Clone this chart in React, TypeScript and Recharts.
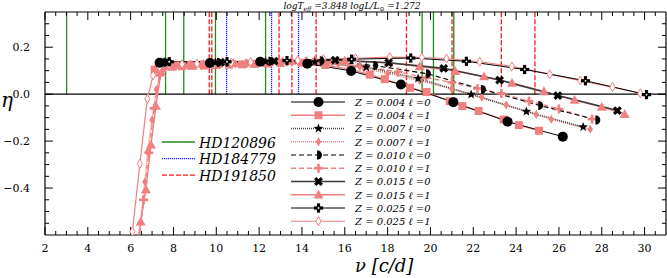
import React from 'react';
import { ComposedChart, Line, XAxis, YAxis, ReferenceLine } from 'recharts';

// model curves: [nu (c/d), eta]
const z004l0 = [[7.35, 0.134], [9.7, 0.133], [12.05, 0.138], [14.25, 0.13], [16.3, 0.099], [18.62, 0.041], [21.07, -0.034], [23.6, -0.117], [26.18, -0.181]];
const z004l1 = [[7.12, 0.105], [7.45, 0.112], [7.9, 0.117], [8.4, 0.119], [8.9, 0.121], [9.45, 0.122], [10.0, 0.124], [10.6, 0.126], [11.2, 0.127], [11.8, 0.129], [12.4, 0.131], [13.0, 0.133], [13.98, 0.134], [15.1, 0.124], [16.27, 0.106], [17.17, 0.083], [17.87, 0.064], [19.05, 0.027], [19.82, 0.009], [20.9, -0.03], [21.49, -0.051], [22.25, -0.072], [23.42, -0.108], [24.13, -0.132], [25.07, -0.156]];
const z007l0 = [[7.5, 0.134], [9.95, 0.134], [12.3, 0.139], [14.6, 0.137], [17.0, 0.115], [19.42, 0.067], [21.9, -0.001], [24.48, -0.074], [27.13, -0.14]];
const z007l1 = [[6.3, -0.68], [6.67, -0.373], [6.79, -0.245], [7.0, -0.11], [7.2, 0.02], [7.45, 0.105], [7.8, 0.118], [8.3, 0.12], [8.9, 0.122], [9.5, 0.124], [10.2, 0.126], [10.9, 0.128], [11.6, 0.13], [12.4, 0.133], [13.3, 0.136], [14.5, 0.137], [15.7, 0.128], [16.9, 0.11], [18.0, 0.088], [19.5, 0.058], [21.0, 0.022], [22.4, -0.013], [23.54, -0.046], [24.94, -0.087], [25.64, -0.107], [27.46, -0.15]];
const z010l0 = [[7.6, 0.136], [10.1, 0.135], [12.5, 0.14], [14.9, 0.142], [17.4, 0.122], [19.86, 0.087], [22.43, 0.02], [25.1, -0.048], [27.77, -0.11]];
const z010l1 = [[6.35, -0.66], [6.6, -0.45], [6.85, -0.25], [7.1, -0.06], [7.35, 0.08], [7.6, 0.115], [8.1, 0.12], [8.7, 0.123], [9.3, 0.125], [10.0, 0.127], [10.7, 0.129], [11.4, 0.131], [12.2, 0.134], [13.1, 0.137], [14.2, 0.14], [15.4, 0.135], [16.7, 0.12], [18.49, 0.095], [19.8, 0.07], [21.0, 0.05], [22.2, 0.024], [23.31, 0.003], [24.6, -0.03], [26.0, -0.063], [27.55, -0.106]];
const z015l0 = [[7.7, 0.137], [10.2, 0.136], [12.7, 0.141], [15.55, 0.145], [18.05, 0.134], [20.62, 0.11], [23.23, 0.06], [25.95, -0.006], [28.73, -0.07]];
const z015l1 = [[6.2, -0.7], [6.47, -0.543], [6.71, -0.406], [6.95, -0.215], [7.18, -0.05], [7.42, 0.095], [7.7, 0.12], [8.2, 0.124], [8.8, 0.126], [9.4, 0.128], [10.1, 0.13], [10.8, 0.132], [11.6, 0.135], [12.5, 0.138], [13.5, 0.141], [14.6, 0.144], [16.0, 0.142], [18.05, 0.134], [19.5, 0.118], [21.16, 0.098], [22.5, 0.075], [23.81, 0.048], [25.3, 0.012], [26.73, -0.025], [28.0, -0.055], [29.07, -0.085]];
const z025l0 = [[7.8, 0.138], [10.5, 0.138], [13.3, 0.143], [16.32, 0.149], [19.08, 0.154], [21.68, 0.14], [24.4, 0.105], [27.24, 0.057], [30.09, -0.002]];
const z025l1 = [[5.9, -0.7], [6.08, -0.586], [6.43, -0.296], [6.78, -0.02], [7.05, 0.08], [7.35, 0.115], [7.8, 0.125], [8.4, 0.128], [9.1, 0.13], [9.9, 0.132], [10.7, 0.134], [11.6, 0.137], [12.6, 0.14], [13.8, 0.144], [15.0, 0.149], [16.5, 0.153], [18.1, 0.158], [19.6, 0.156], [20.75, 0.152], [22.3, 0.138], [23.8, 0.118], [25.57, 0.085], [27.0, 0.058], [28.5, 0.03], [29.8, 0.004]];

// observed frequencies (c/d)
const hd120896 = [3.01, 7.63, 8.48, 9.96, 12.3, 19.61, 20.14, 21.09];
const hd184779 = [10.48, 12.58, 13.84];
const hd191850 = [9.67, 9.79, 12.93, 13.53, 14.66, 18.88, 21.01, 23.31, 24.88];

const xLabelTicks = [2, 4, 6, 8, 10, 12, 14, 16, 18, 20, 22, 24, 26, 28, 30];
const xMinorTicks = [2.5, 3, 3.5, 4.5, 5, 5.5, 6.5, 7, 7.5, 8.5, 9, 9.5, 10.5, 11, 11.5, 12.5, 13, 13.5, 14.5, 15, 15.5, 16.5, 17, 17.5, 18.5, 19, 19.5, 20.5, 21, 21.5, 22.5, 23, 23.5, 24.5, 25, 25.5, 26.5, 27, 27.5, 28.5, 29, 29.5, 30.5];
const yLabelTicks = [-0.4, -0.2, 0.0, 0.2];
const yMinorTicks = [-0.55, -0.5, -0.45, -0.35, -0.3, -0.25, -0.15, -0.1, -0.05, 0.05, 0.1, 0.15, 0.25, 0.3];

const X_DOMAIN: [number, number] = [2, 31];
const Y_DOMAIN: [number, number] = [-0.6, 0.35];
const SALMON = '#f08080';
const FONT = 'DejaVu Serif';

const toPts = (rows: number[][]) => rows.map(([x, y]) => ({ x, y }));

type Kind = 'circle' | 'square' | 'star' | 'diamond' | 'half' | 'plus' | 'cross' | 'tri' | 'clover' | 'odiamond';

function starPath(cx: number, cy: number) {
  let d = '';
  for (let i = 0; i < 10; i++) {
    const r = i % 2 === 0 ? 5 : 2.1;
    const a = -Math.PI / 2 + (i * Math.PI) / 5;
    d += (i === 0 ? 'M' : 'L') + (cx + r * Math.cos(a)).toFixed(2) + ',' + (cy + r * Math.sin(a)).toFixed(2);
  }
  return d + 'Z';
}

function Marker({ kind, cx, cy }: { kind: Kind; cx: number; cy: number }) {
  switch (kind) {
    case 'circle':
      return <circle cx={cx} cy={cy} r={5} fill="#000" />;
    case 'square':
      return <rect x={cx - 4} y={cy - 4} width={8} height={8} fill={SALMON} />;
    case 'star':
      return <path d={starPath(cx, cy)} fill="#000" />;
    case 'diamond':
      return <path d={`M${cx},${cy - 4.5}L${cx + 2.8},${cy}L${cx},${cy + 4.5}L${cx - 2.8},${cy}Z`} fill={SALMON} />;
    case 'half':
      return (
        <g>
          <path d={`M${cx - 1},${cy - 4.5}A4.5,4.5 0 0 1 ${cx - 1},${cy + 4.5}Z`} fill="#000" />
          <line x1={cx - 1} y1={cy - 4.5} x2={cx - 1} y2={cy + 4.5} stroke="#000" strokeWidth={0.8} />
        </g>
      );
    case 'plus':
      return (
        <g stroke={SALMON} strokeWidth={2.6}>
          <line x1={cx - 4.5} y1={cy} x2={cx + 4.5} y2={cy} />
          <line x1={cx} y1={cy - 4.5} x2={cx} y2={cy + 4.5} />
        </g>
      );
    case 'cross':
      return (
        <g stroke="#000" strokeWidth={3.2}>
          <line x1={cx - 3.3} y1={cy - 3.3} x2={cx + 3.3} y2={cy + 3.3} />
          <line x1={cx - 3.3} y1={cy + 3.3} x2={cx + 3.3} y2={cy - 3.3} />
        </g>
      );
    case 'tri':
      return <path d={`M${cx},${cy - 5}L${cx + 5},${cy + 3.8}L${cx - 5},${cy + 3.8}Z`} fill={SALMON} />;
    case 'clover':
      return (
        <g>
          <g stroke="#000" strokeWidth={3.2}>
            <line x1={cx - 4.6} y1={cy} x2={cx + 4.6} y2={cy} />
            <line x1={cx} y1={cy - 4.6} x2={cx} y2={cy + 4.6} />
          </g>
          <circle cx={cx} cy={cy} r={0.9} fill="#fff" />
        </g>
      );
    case 'odiamond':
      return <path d={`M${cx},${cy - 4.5}L${cx + 2.6},${cy}L${cx},${cy + 4.5}L${cx - 2.6},${cy}Z`} fill="#fff" stroke={SALMON} strokeWidth={1} />;
    default:
      return null;
  }
}

type Series = { label: string; data: number[][]; stroke: string; width: number; dash?: string; kind: Kind };

const SERIES: Series[] = [
  { label: 'Z = 0.004 ℓ =0', data: z004l0, stroke: '#000', width: 1, kind: 'circle' },
  { label: 'Z = 0.004 ℓ =1', data: z004l1, stroke: SALMON, width: 1.3, kind: 'square' },
  { label: 'Z = 0.007 ℓ =0', data: z007l0, stroke: '#444', width: 1.6, dash: '1 1', kind: 'star' },
  { label: 'Z = 0.007 ℓ =1', data: z007l1, stroke: SALMON, width: 1.6, dash: '1 1', kind: 'diamond' },
  { label: 'Z = 0.010 ℓ =0', data: z010l0, stroke: '#000', width: 1.1, dash: '5 3', kind: 'half' },
  { label: 'Z = 0.010 ℓ =1', data: z010l1, stroke: SALMON, width: 1.3, dash: '5 3', kind: 'plus' },
  { label: 'Z = 0.015 ℓ =0', data: z015l0, stroke: '#3a3a3a', width: 1.6, kind: 'cross' },
  { label: 'Z = 0.015 ℓ =1', data: z015l1, stroke: SALMON, width: 1.4, kind: 'tri' },
  { label: 'Z = 0.025 ℓ =0', data: z025l0, stroke: '#000', width: 1, kind: 'clover' },
  { label: 'Z = 0.025 ℓ =1', data: z025l1, stroke: SALMON, width: 1.2, kind: 'odiamond' },
];

const OBS = [
  { label: 'HD120896', freqs: hd120896, stroke: '#1f8a1f', dash: undefined as string | undefined, width: 1.3 },
  { label: 'HD184779', freqs: hd184779, stroke: '#2020ff', dash: '1.2 0.8', width: 1.3 },
  { label: 'HD191850', freqs: hd191850, stroke: '#ff1a1a', dash: '5 2', width: 1.3 },
];

const fmtY = (v: number) => (v < 0 ? '\u2212' : '') + Math.abs(v).toFixed(1);

// tick lengths in data units (x: 21.43 px per c/d, y: 235 px per unit)
const TX_MAJ = 0.034, TX_MIN = 0.017;
const TY_MAJ = 0.37, TY_MIN = 0.19;

export default function App() {
  const l1 = SERIES.filter((_, i) => i % 2 === 1);
  const l0 = SERIES.filter((_, i) => i % 2 === 0);
  const tickSeg = (key: string, a: { x: number; y: number }, b: { x: number; y: number }) => (
    <ReferenceLine key={key} segment={[a, b]} stroke="#000" strokeWidth={1} ifOverflow="visible" />
  );
  const xT = [...xLabelTicks.map((t) => [t, TX_MAJ]), ...xMinorTicks.map((t) => [t, TX_MIN])];
  const yT = [...yLabelTicks.map((t) => [t, TY_MAJ]), ...yMinorTicks.map((t) => [t, TY_MIN])];

  return (
    <div style={{ position: 'absolute', left: 0, top: 0, width: 667, height: 278, background: '#fff' }}>
      <ComposedChart width={667} height={278} margin={{ top: 12, right: 1, bottom: 0, left: 0 }}>
        <XAxis
          type="number"
          dataKey="x"
          domain={X_DOMAIN}
          ticks={xLabelTicks}
          allowDataOverflow
          height={43}
          axisLine={false}
          tickLine={false}
          tickSize={0}
          tickMargin={9}
          interval={0}
          tick={{ fontFamily: FONT, fontSize: 11, fill: '#000' }}
        />
        <YAxis
          type="number"
          dataKey="y"
          domain={Y_DOMAIN}
          ticks={yLabelTicks}
          allowDataOverflow
          width={45}
          axisLine={false}
          tickLine={false}
          tickSize={0}
          tickMargin={15}
          interval={0}
          tickFormatter={fmtY}
          tick={{ fontFamily: FONT, fontSize: 11, fill: '#000' }}
        />
        {OBS.flatMap((o) =>
          o.freqs.map((f, i) => (
            <ReferenceLine
              key={`${o.label}-${i}`}
              segment={[{ x: f, y: 0 }, { x: f, y: Y_DOMAIN[1] }]}
              stroke={o.stroke}
              strokeWidth={o.width}
              strokeDasharray={o.dash}
              ifOverflow="visible"
            />
          )),
        )}
        <ReferenceLine y={0} stroke="#000" strokeWidth={1.2} />
        {xT.map(([t, len], i) => tickSeg(`xb${i}`, { x: t, y: Y_DOMAIN[0] }, { x: t, y: Y_DOMAIN[0] + len }))}
        {xT.map(([t, len], i) => tickSeg(`xt${i}`, { x: t, y: Y_DOMAIN[1] }, { x: t, y: Y_DOMAIN[1] - len }))}
        {yT.map(([t, len], i) => tickSeg(`yl${i}`, { x: X_DOMAIN[0], y: t }, { x: X_DOMAIN[0] + len, y: t }))}
        {yT.map(([t, len], i) => tickSeg(`yr${i}`, { x: X_DOMAIN[1], y: t }, { x: X_DOMAIN[1] - len, y: t }))}
        <ReferenceLine x={X_DOMAIN[0]} stroke="#000" strokeWidth={1.2} />
        <ReferenceLine x={X_DOMAIN[1]} stroke="#000" strokeWidth={1.2} />
        <ReferenceLine y={Y_DOMAIN[0]} stroke="#000" strokeWidth={1.2} />
        <ReferenceLine y={Y_DOMAIN[1]} stroke="#000" strokeWidth={1.2} />
        {[...l1, ...l0].map((s) => (
          <Line
            key={s.label}
            data={toPts(s.data)}
            dataKey="y"
            type="linear"
            stroke={s.stroke}
            strokeWidth={s.width}
            strokeDasharray={s.dash}
            isAnimationActive={false}
            activeDot={false}
            dot={(p: any) => <Marker key={`${s.label}-${p.index}`} kind={s.kind} cx={p.cx} cy={p.cy} />}
          />
        ))}
      </ComposedChart>
      <svg width={667} height={278} style={{ position: 'absolute', left: 0, top: 0, pointerEvents: 'none' }}>
        <text x={352} y={9} textAnchor="middle" fontFamily={FONT} fontStyle="italic" fontSize={9}>
          logT<tspan fontSize={6} dy={2}>eff</tspan>
          <tspan dy={-2}> =3.848 logL/L</tspan>
          <tspan fontSize={6} dy={2} fontStyle="normal">⊙</tspan>
          <tspan dy={-2}> =1.272</tspan>
        </text>
        <text x={1} y={107} fontFamily={FONT} fontStyle="italic" fontSize={20}>η</text>
        <text x={355} y={272} fontFamily={FONT} fontStyle="italic" fontSize={18}>ν [c/d]</text>
        {OBS.map((o, i) => (
          <g key={o.label}>
            <line x1={162} x2={195} y1={142 + i * 16.6} y2={142 + i * 16.6} stroke={o.stroke} strokeWidth={o.width} strokeDasharray={o.dash} />
            <text x={199} y={147.5 + i * 16.6} fontFamily={FONT} fontStyle="italic" fontSize={14}>{o.label}</text>
          </g>
        ))}
        {SERIES.map((s, i) => {
          const y = 102 + i * 13.25;
          return (
            <g key={s.label}>
              <line x1={291} x2={345} y1={y} y2={y} stroke={s.stroke} strokeWidth={s.width} strokeDasharray={s.dash} />
              <Marker kind={s.kind} cx={318.5} cy={y} />
              <text x={355} y={y + 3.8} fontFamily={FONT} fontStyle="italic" fontSize={10}>{s.label}</text>
            </g>
          );
        })}
      </svg>
    </div>
  );
}
